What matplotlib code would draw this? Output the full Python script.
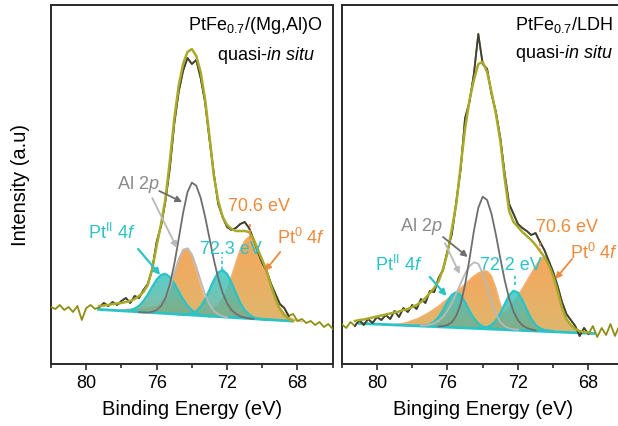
import numpy as np
import matplotlib
matplotlib.use("Agg")
import matplotlib.pyplot as plt
from matplotlib.colors import LinearSegmentedColormap
from matplotlib.ticker import MultipleLocator

plt.rcParams["font.family"] = ["Liberation Sans", "DejaVu Sans"]
plt.rcParams["mathtext.fontset"] = "custom"
plt.rcParams["mathtext.rm"] = "Liberation Sans"
plt.rcParams["mathtext.it"] = "Liberation Sans:italic"

# all curves are sampled every 0.25 eV, going down from the given start energy
STEP = 0.25

# ---- left panel: PtFe0.7/(Mg,Al)O ----
L_RAW_START = 82.0
L_RAW = [57, 55, 59, 54, 57, 52, 58, 44, 56, 59, 55, 57, 61, 58, 62, 59, 63, 66, 61, 68,
         66, 74, 80, 95, 122, 138, 163, 196, 240, 272, 293, 306, 300, 304, 286, 262, 225, 190, 160, 147,
         137, 134, 136, 140, 142, 136, 125, 112, 101, 93, 80, 70, 60, 56, 48, 50, 43, 45, 41, 43,
         39, 42, 37, 40, 35]
L_FIT_RANGE = (79.3, 68.3)
L_ENV_START = 79.25
L_ENV = [58, 58.5, 59, 60, 60.5, 61, 62, 63, 65, 68, 72, 79, 95, 118, 140, 165, 203, 245, 278, 300,
         312, 315, 308, 292, 265, 228, 188, 163, 147, 139, 135, 133, 133, 133, 132, 125, 114, 104, 93, 78,
         65, 55, 49, 45, 43]
L_BG_E = [79.3, 68.3]
L_BG = [54.6, 42.9]
L_PT2_B_START = 78.0   # Pt(II) 4f5/2
L_PT2_B = [53.0, 53.2, 53.8, 55.3, 58.3, 63.0, 69.6, 77.2, 84.4, 89.1, 90.2, 87.0, 80.5, 72.5, 64.6,
           58.3, 53.7, 50.8, 49.2, 48.3, 47.7]
L_PT0_B_START = 78.0   # Pt(0) 4f5/2
L_PT0_B = [54.3, 54.6, 54.8, 55.0, 55.3, 55.5, 56.0, 56.7, 57.9, 61.1, 67.0, 77.4, 90.8, 105.0, 114.6,
           115.6, 107.8, 93.4, 77.7, 64.4, 55.7, 50.7, 48.4, 47.3, 46.7]
L_AL_START = 77.0      # Al 2p
L_AL = [51.8, 51.6, 51.6, 52.2, 54.0, 58.0, 65.9, 79.7, 99.6, 124.8, 150.8, 171.8, 181.4, 178.3, 166.2,
        147.5, 125.8, 104.2, 85.6, 71.0, 60.7, 54.0, 50.1, 47.7, 46.5, 45.7, 45.1]
L_AL2_START = 76.5     # second Al 2p component
L_AL2 = [51.8, 52.4, 54.3, 58.4, 65.6, 76.7, 90.3, 104.0, 113.5, 115.8, 109.8, 97.6, 83.1, 69.7, 59.6,
         53.2, 49.7, 47.8, 46.7]
L_PT2_A_START = 74.75  # Pt(II) 4f7/2, 72.3 eV
L_PT2_A = [49.5, 49.4, 49.7, 50.5, 52.8, 57.3, 64.5, 74.1, 84.1, 91.6, 93.9, 90.1, 81.5, 71.0, 61.0,
           53.9, 49.6, 46.7, 45.4, 44.7, 44.4]
L_PT0_A_START = 74.0   # Pt(0) 4f7/2, 70.6 eV
L_PT0_A = [49.7, 50.0, 50.6, 51.4, 52.9, 55.2, 59.4, 66.1, 75.6, 87.8, 101.5, 114.4, 123.4, 127.5, 124.7,
           116.5, 104.1, 90.3, 76.8, 65.2, 56.8, 50.8, 47.0, 44.9, 43.5, 42.3]

# ---- right panel: PtFe0.7/LDH ----
R_RAW_START = 82.0
R_RAW = [40, 36, 42, 38, 44, 39, 45, 41, 47, 44, 49, 45, 53, 47, 56, 52, 59, 55, 65, 61,
         73, 72, 86, 94, 113, 130, 162, 195, 246, 262, 290, 330, 300, 295, 270, 252, 226, 190, 160, 150,
         140, 136, 133, 129, 131, 122, 114, 103, 92, 78, 62, 50, 44, 38, 28, 36, 30, 38, 27, 36,
         29, 40, 28, 38, 30]
R_FIT_RANGE = (81.3, 68.0)
R_ENV_START = 81.25
R_ENV = [43, 44, 44.5, 45.5, 46.5, 47.5, 48.5, 49.5, 50.5, 51.5, 52.5, 54, 55, 57, 59, 62, 66, 71, 76, 83,
         95, 111, 135, 160, 198, 235, 264, 284, 300, 302, 292, 272, 250, 223, 185, 153, 142, 137, 132, 128,
         124, 119, 113, 107, 99, 88, 73, 56, 45, 39, 35, 33, 32, 31.5]
R_BG_E = [81.0, 67.7]
R_BG = [40.6, 30.5]
R_PT2_B_START = 77.75
R_PT2_B = [38.3, 38.2, 38.6, 39.7, 42.2, 47.0, 54.0, 62.4, 69.2, 71.8, 68.9, 61.7, 53.0, 45.7, 40.5,
           37.6, 36.2, 35.6, 35.2]
R_PT0_B_START = 79.0
R_PT0_B = [39.5, 40, 40.8, 41.8, 43.5, 45, 47, 49.5, 52, 55, 58, 61.5, 65, 68.5, 72, 76, 80, 84, 88,
           91, 93, 93, 88, 76, 60, 47, 40, 36.5, 34.5]
R_AL_START = 76.5
R_AL = [37.6, 38.0, 38.9, 41.8, 48.2, 60.1, 79.3, 104.9, 133.0, 156.2, 167.3, 164.0, 150.1, 129.2, 105.6,
        83.6, 65.5, 52.4, 43.8, 38.7, 36.1, 34.6, 33.6]
R_AL2_START = 77.5
R_AL2 = [38.4, 38.6, 39.4, 40.7, 43.0, 47.0, 53.1, 60.9, 70.6, 80.6, 90.4, 97.8, 101.7, 100.2, 90.6,
         76.2, 61.5, 49.7, 41.9, 37.8, 35.7, 34.8, 34.3]
R_PT2_A_START = 74.5   # 72.2 eV
R_PT2_A = [36.1, 36.0, 36.1, 36.8, 39.0, 43.4, 50.7, 59.9, 68.8, 73.3, 71.4, 63.9, 54.1, 45.2, 39.1,
           35.6, 34.0, 33.3, 32.9]
R_PT0_A_START = 74.0   # 70.6 eV
R_PT0_A = [36.5, 38, 40, 43, 46.5, 51, 56, 62, 68.5, 75.5, 83, 90.5, 98, 104.5, 108, 101, 89, 73, 57,
           46, 39, 35, 33, 32]

X_LIM = (82.0, 66.0)
Y_LIM = (0, 359)

C_RAW = "#3f3f3f"
C_OLIVE = "#8e8e12"
C_ENV = "#a9a92a"
C_AL = "#6e6e6e"
C_AL2 = "#b9b9b9"
C_CYAN = "#2cc3c6"
C_ORANGE = "#ee8a3c"
C_ORANGE_LINE = "#f3b27a"


def energies(start, n):
    return start - STEP * np.arange(n)


def gradient_fill(ax, x, y, top, bottom, alpha, z):
    poly = ax.fill(x, y, facecolor="none", edgecolor="none", zorder=z)[0]
    cmap = LinearSegmentedColormap.from_list("g", [bottom, top])
    im = ax.imshow(np.linspace(0, 1, 128).reshape(-1, 1), cmap=cmap, aspect="auto",
                   origin="lower", extent=[max(x), min(x), min(y), max(y)],
                   alpha=alpha, zorder=z, interpolation="bilinear")
    im.set_clip_path(poly)


def draw_panel(ax, d):
    raw_x = energies(d["raw_start"], len(d["raw"]))
    raw_y = np.array(d["raw"], dtype=float)
    lo, hi = d["fit_range"][1], d["fit_range"][0]

    # fitted Pt components
    for key in ("pt0_b", "pt0_a"):
        start, vals = d[key]
        x = energies(start, len(vals))
        gradient_fill(ax, x, vals, "#f5a04e", "#dcb060", 0.92, 2)
        ax.plot(x, vals, color=C_ORANGE_LINE, lw=1.0, zorder=3)
    for key in ("pt2_b", "pt2_a"):
        start, vals = d[key]
        x = energies(start, len(vals))
        gradient_fill(ax, x, vals, "#36c8c8", "#74ad8c", 0.85, 4)
        ax.plot(x, vals, color=C_CYAN, lw=1.6, zorder=5)
    ax.plot(d["bg_e"], d["bg"], color=C_CYAN, lw=2.0, zorder=5)

    for key, col in (("al2", C_AL2), ("al", C_AL)):
        start, vals = d[key]
        ax.plot(energies(start, len(vals)), vals, color=col, lw=1.3, zorder=6)

    # measured spectrum: olive outside the fit window, dark grey inside
    ax.plot(raw_x, raw_y, color=C_OLIVE, lw=1.3, zorder=6)
    inside = (raw_x <= hi + 1e-9) & (raw_x >= lo - 1e-9)
    ax.plot(raw_x[inside], raw_y[inside], color=C_RAW, lw=1.3, zorder=7)

    env_x = energies(d["env_start"], len(d["env"]))
    ax.plot(env_x, d["env"], color=C_ENV, lw=1.8, zorder=8)

    ax.set_xlim(*X_LIM)
    ax.set_ylim(*Y_LIM)
    ax.set_yticks([])
    ax.xaxis.set_major_locator(MultipleLocator(4))
    ax.xaxis.set_minor_locator(MultipleLocator(2))
    ax.tick_params(axis="x", which="major", direction="out", length=4, width=1.2,
                   labelsize=13, pad=3, color="#2a2a2a")
    ax.tick_params(axis="x", which="minor", direction="out", length=3, width=1.2, color="#2a2a2a")
    for s in ax.spines.values():
        s.set_linewidth(1.4)
        s.set_color("#2a2a2a")


def arrow(ax, start, tip, color, lw=1.3):
    ax.annotate("", xy=tip, xytext=start,
                arrowprops=dict(arrowstyle="-|>", color=color, lw=lw, mutation_scale=9,
                                shrinkA=0, shrinkB=0), zorder=10)


fig = plt.figure(figsize=(6.18, 4.27), dpi=100)
axL = fig.add_axes([51 / 618, 62 / 427, 281.7 / 618, 359 / 427])
axR = fig.add_axes([341.7 / 618, 62 / 427, 282 / 618, 359 / 427])

draw_panel(axL, dict(raw_start=L_RAW_START, raw=L_RAW, fit_range=L_FIT_RANGE,
                     env_start=L_ENV_START, env=L_ENV, bg_e=L_BG_E, bg=L_BG,
                     pt2_b=(L_PT2_B_START, L_PT2_B), pt0_b=(L_PT0_B_START, L_PT0_B),
                     al=(L_AL_START, L_AL), al2=(L_AL2_START, L_AL2),
                     pt2_a=(L_PT2_A_START, L_PT2_A), pt0_a=(L_PT0_A_START, L_PT0_A)))
draw_panel(axR, dict(raw_start=R_RAW_START, raw=R_RAW, fit_range=R_FIT_RANGE,
                     env_start=R_ENV_START, env=R_ENV, bg_e=R_BG_E, bg=R_BG,
                     pt2_b=(R_PT2_B_START, R_PT2_B), pt0_b=(R_PT0_B_START, R_PT0_B),
                     al=(R_AL_START, R_AL), al2=(R_AL2_START, R_AL2),
                     pt2_a=(R_PT2_A_START, R_PT2_A), pt0_a=(R_PT0_A_START, R_PT0_A)))

axL.set_xlabel("Binding Energy (eV)", fontsize=14.5, labelpad=6)
axR.set_xlabel("Binging Energy (eV)", fontsize=14.5, labelpad=6)
axL.set_ylabel("Intensity (a.u)", fontsize=14.5)
axL.yaxis.set_label_coords(-0.075, 0.5)

fs = 13
tkw = dict(fontsize=fs, zorder=11)

# left panel labels
axL.text(66.6, 340, r"PtFe$_{0.7}$/(Mg,Al)O", ha="right", va="center", **tkw)
axL.text(67.0, 310, r"quasi-$\mathit{in\ situ}$", ha="right", va="center", **tkw)
axL.text(78.25, 180, r"Al 2$\mathit{p}$", color="#8a8a8a", ha="left", va="center", **tkw)
arrow(axL, (75.85, 173), (74.55, 162), C_AL)
arrow(axL, (76.25, 166), (74.85, 116), C_AL2)
axL.text(79.9, 132, r"Pt$^{\mathrm{II}}$ $\mathit{4f}$", color=C_CYAN, ha="left", va="center", **tkw)
arrow(axL, (77.05, 115), (75.8, 89), C_CYAN, lw=1.6)
axL.text(71.95, 158, "70.6 eV", color=C_ORANGE, ha="left", va="center", **tkw)
axL.plot([70.67, 70.67], [125, 141], color=C_ORANGE, lw=1.2, ls=(0, (2, 1.5)), zorder=10)
axL.text(69.15, 127, r"Pt$^{0}$ $\mathit{4f}$", color=C_ORANGE, ha="left", va="center", **tkw)
arrow(axL, (68.98, 112), (69.85, 93), C_ORANGE)
axL.text(73.55, 115, "72.3 eV", color=C_CYAN, ha="left", va="center", **tkw)
axL.plot([72.27, 72.27], [94, 107], color=C_CYAN, lw=1.2, ls=(0, (2, 1.5)), zorder=10)

# right panel labels
axR.text(72.15, 340, r"PtFe$_{0.7}$/LDH", ha="left", va="center", **tkw)
axR.text(72.15, 312, r"quasi-$\mathit{in\ situ}$", ha="left", va="center", **tkw)
axR.text(78.7, 138, r"Al 2$\mathit{p}$", color="#8a8a8a", ha="left", va="center", **tkw)
arrow(axR, (76.25, 127), (74.85, 107), C_AL)
arrow(axR, (76.15, 121), (75.3, 90), C_AL2)
axR.text(80.1, 100, r"Pt$^{\mathrm{II}}$ $\mathit{4f}$", color=C_CYAN, ha="left", va="center", **tkw)
arrow(axR, (77.0, 87), (76.05, 68), C_CYAN, lw=1.6)
axR.text(71.0, 137, "70.6 eV", color=C_ORANGE, ha="left", va="center", **tkw)
axR.plot([70.77, 70.77], [112, 124], color=C_ORANGE, lw=1.2, ls=(0, (2, 1.5)), zorder=10)
axR.text(69.05, 112, r"Pt$^{0}$ $\mathit{4f}$", color=C_ORANGE, ha="left", va="center", **tkw)
arrow(axR, (68.93, 105), (69.88, 85), C_ORANGE)
axR.text(74.15, 99, "72.2 eV", color=C_CYAN, ha="left", va="center", **tkw)
axR.plot([72.19, 72.19], [79, 89], color=C_CYAN, lw=1.2, ls=(0, (2, 1.5)), zorder=10)

fig.savefig("out.png", dpi=100)
